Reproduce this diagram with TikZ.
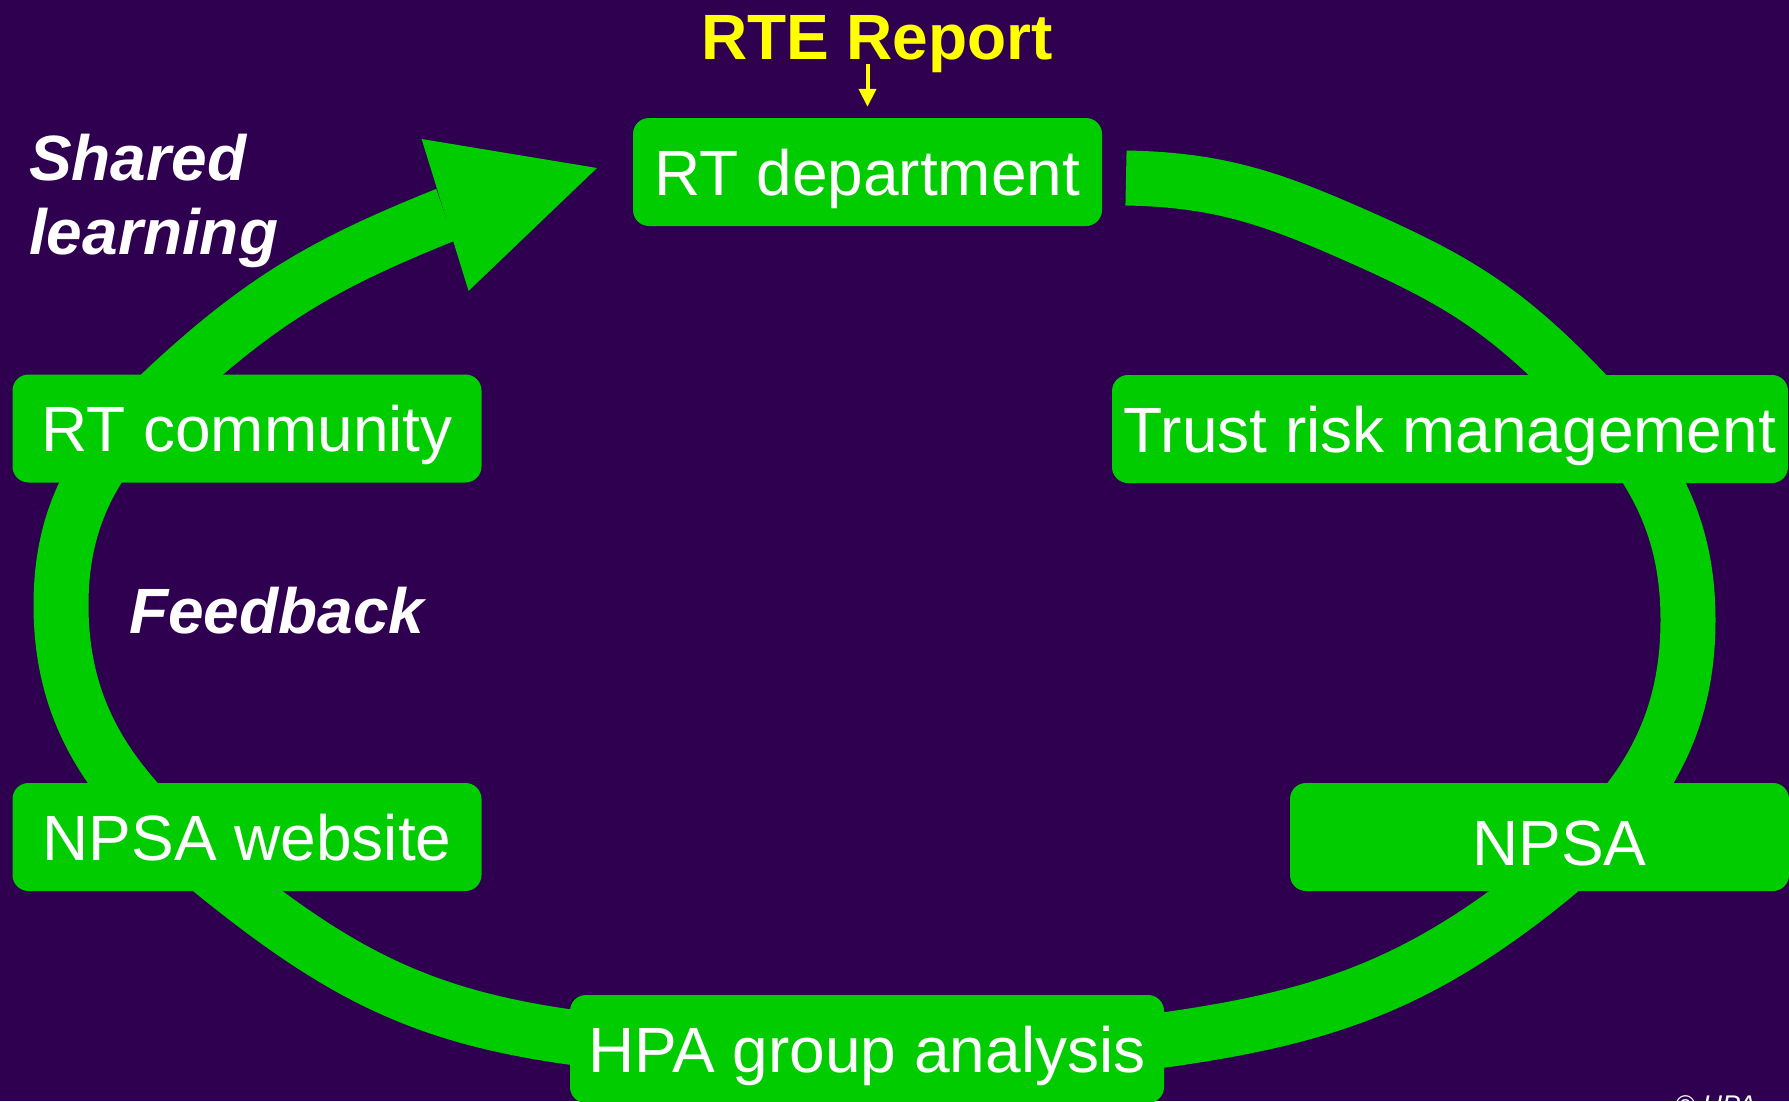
\documentclass[tikz,border=0pt]{standalone}
\usepackage{fontspec}
\setmainfont{Liberation Sans}
\usetikzlibrary{arrows.meta,positioning,calc}

\definecolor{slide}{RGB}{48,0,80}
\definecolor{boxgreen}{RGB}{0,204,0}
\definecolor{rteyellow}{RGB}{255,255,0}

\begin{document}
\begin{tikzpicture}[x=1pt, y=-1pt, >=Latex,
  stage/.style={fill=boxgreen, rounded corners=16pt, text=white, inner sep=0pt,
    minimum height=108pt, text height=46pt, text depth=0pt,
    font=\fontsize{64}{74}\selectfont},
  ring/.style={draw=boxgreen, line width=55pt},
  tag/.style={text=white, inner sep=0pt, font=\fontsize{64}{74}\selectfont\bfseries\itshape}]
  \useasboundingbox (0,0) rectangle (1789,1101);
  \fill[slide] (0,0) rectangle (1789,1101);

  % the loop behind the boxes
  \draw[ring, -{Triangle[length=159pt, width=159pt, line width=0pt]}]
    (1126,178) to[out=-1, in=156] (1364,239) to[out=-24, in=135] (1567,374)
    to[out=-45, in=90] (1688,620) to[out=-90, in=38] (1535,891)
    to[out=-142, in=8] (1164,1040) to[out=-172, in=0] (868,1062)
    to[out=180, in=-8] (570,1037) to[out=172, in=-38] (237,891)
    to[out=142, in=-90] (61,605) to[out=90, in=-138] (182,374)
    to[out=42, in=-158] (445,215) -- (597,168);

  % boxes
  \node[stage, minimum width=469pt] (dept) at (867.5,172) {RT department};
  \node[stage, minimum width=469pt] (community) at (247,428.5) {RT community};
  \node[stage, minimum width=676pt] (trust) at (1450,429) {Trust risk management};
  \node[stage, minimum width=469pt] (website) at (247,837) {NPSA website};
  \node[stage, minimum width=499pt, text height=56pt] (npsa) at (1539.5,837) {\hspace*{40pt}NPSA};
  \node[stage, minimum width=594pt] (hpa) at (867,1049) {HPA group analysis};

  % report coming in
  \node[text=rteyellow, inner sep=0pt, font=\fontsize{64}{74}\selectfont\bfseries, anchor=base] (rte) at (877,59) {RTE Report};
  \draw[rteyellow, line width=4pt, -{Triangle[length=18pt, width=17pt]}]
    ($(rte.base -| dept.north)+(0,5)$) -- ([yshift=11pt]dept.north);

  \node[tag, align=left, anchor=west] (shared) at (29,201) {Shared\\learning};
  \node[tag, anchor=base west] (feedback) at (129,633) {Feedback};
  \node[text=white, inner sep=0pt, font=\fontsize{27}{30}\selectfont\itshape, anchor=base west] (copy) at (1675,1114) {© HPA};
\end{tikzpicture}
\end{document}
